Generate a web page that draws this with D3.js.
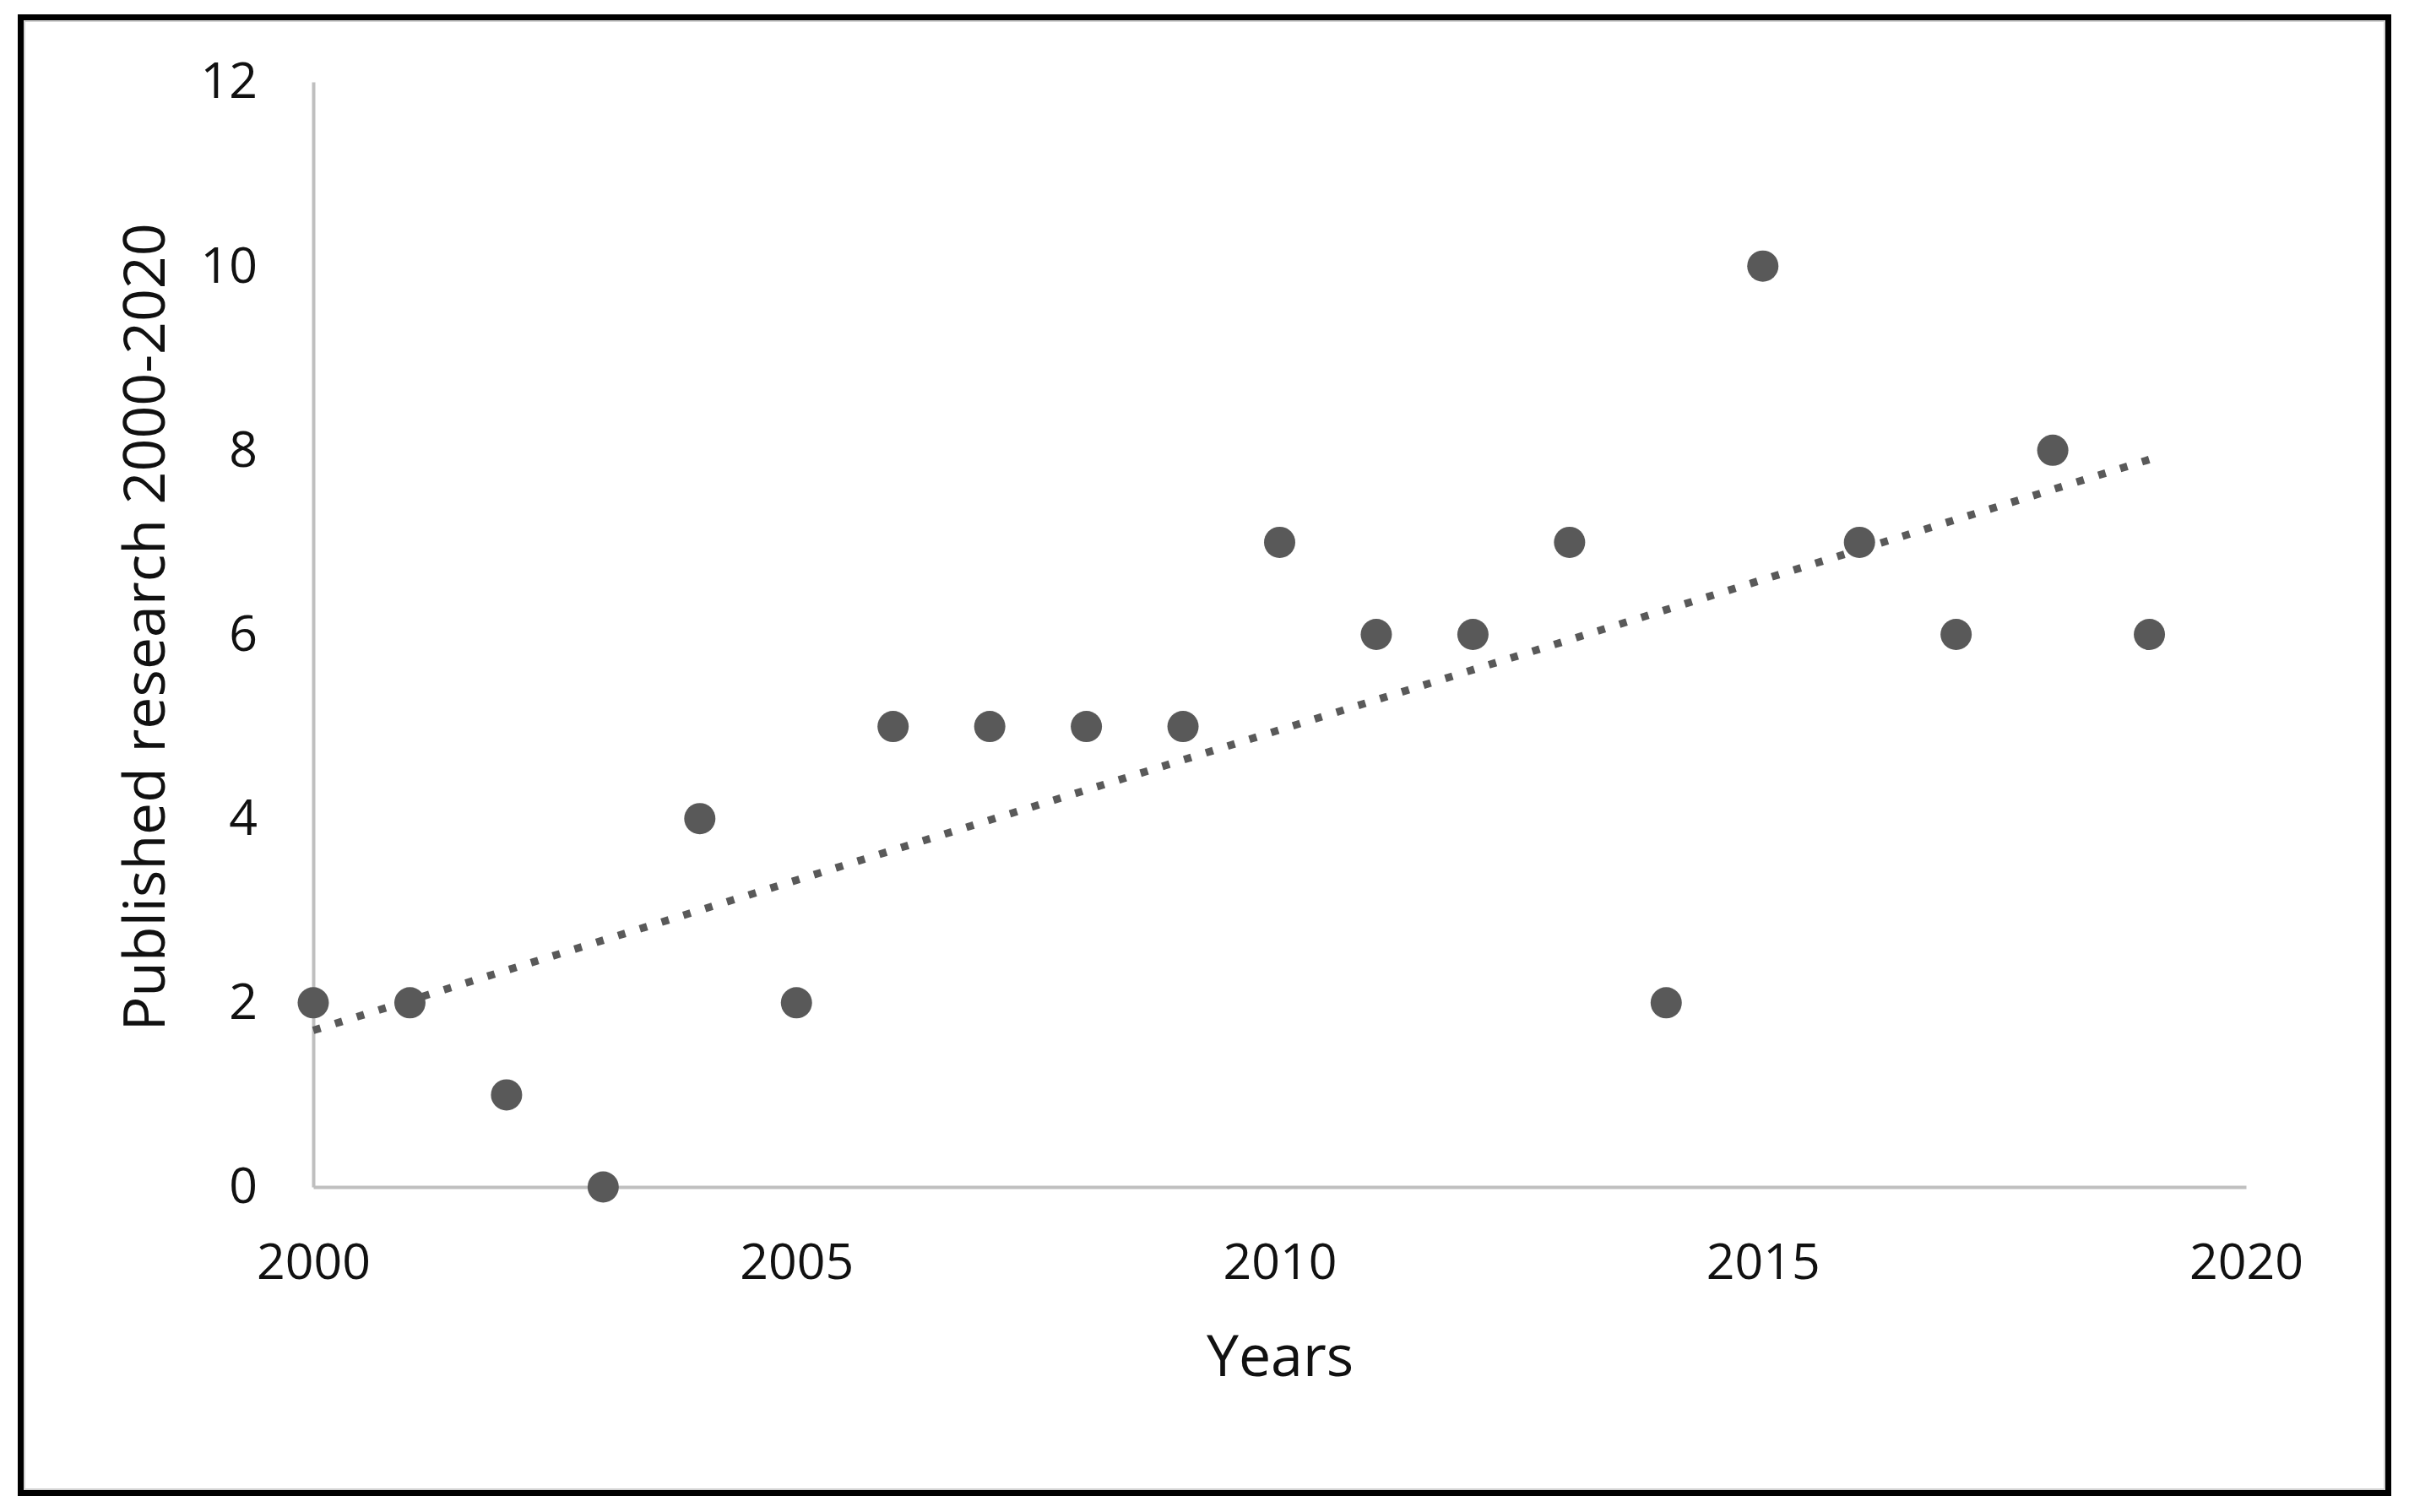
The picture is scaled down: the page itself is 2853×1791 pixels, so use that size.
<!DOCTYPE html>
<html>
<head>
<meta charset="utf-8">
<script src="https://cdn.jsdelivr.net/npm/d3@7"></script>
<style>
  html, body { margin: 0; padding: 0; background: #fff; }
  svg { display: block; }
  text { font-family: "Open Sans", "Noto Sans", sans-serif; }
</style>
</head>
<body>
<div id="chart"></div>
<script>
// data
const years = [2000, 2001, 2002, 2003, 2004, 2005, 2006, 2007, 2008, 2009,
               2010, 2011, 2012, 2013, 2014, 2015, 2016, 2017, 2018, 2019];
const published = [2, 2, 1, 0, 4, 2, 5, 5, 5, 5,
                   7, 6, 6, 7, 2, 10, 7, 6, 8, 6];
const xTicks = [2000, 2005, 2010, 2015, 2020];
const yTicks = [0, 2, 4, 6, 8, 10, 12];

const width = 2853, height = 1791;

const svg = d3.select("#chart")
    .append("svg")
    .attr("width", width)
    .attr("height", height);

// outer frame
svg.append("rect")
    .attr("x", 24.5).attr("y", 20.5)
    .attr("width", 2804).attr("height", 1748)
    .attr("fill", "#fff")
    .attr("stroke", "#000")
    .attr("stroke-width", 7);
svg.append("rect")
    .attr("x", 29).attr("y", 25)
    .attr("width", 2795).attr("height", 1739)
    .attr("fill", "none")
    .attr("stroke", "#d4d4d4")
    .attr("stroke-width", 2);

const x = d3.scaleLinear().domain([2000, 2020]).range([371, 2660]);
const y = d3.scaleLinear().domain([0, 12]).range([1406, 97]);

// axes, no tick marks, light grey lines
const gx = svg.append("g")
    .attr("transform", `translate(0,${y(0)})`)
    .call(d3.axisBottom(x).tickValues(xTicks).tickFormat(d3.format("d"))
        .tickSize(0).tickSizeOuter(0).tickPadding(67));
const gy = svg.append("g")
    .attr("transform", `translate(${x(2000)},0)`)
    .call(d3.axisLeft(y).tickValues(yTicks)
        .tickSize(0).tickSizeOuter(0).tickPadding(66));

[gx, gy].forEach(g => {
    g.select(".domain").attr("stroke", "#bfbfbf").attr("stroke-width", 4);
    g.selectAll("text")
        .attr("font-family", "'Open Sans', sans-serif")
        .attr("font-size", 59)
        .attr("fill", "#111");
});

// linear trendline (least squares on the data)
const n = years.length;
const mx = d3.mean(years), my = d3.mean(published);
const slope = d3.sum(years, (v, i) => (v - mx) * (published[i] - my)) /
              d3.sum(years, v => (v - mx) * (v - mx));
const intercept = my - slope * mx;
const trend = [years[0], years[n - 1]].map(v => [v, intercept + slope * v]);

svg.append("path")
    .datum(trend)
    .attr("d", d3.line().x(d => x(d[0])).y(d => y(d[1])))
    .attr("fill", "none")
    .attr("stroke", "#595959")
    .attr("stroke-width", 9)
    .attr("stroke-dasharray", "9,18");

// points
svg.append("g")
    .selectAll("circle")
    .data(years)
    .enter().append("circle")
    .attr("cx", d => x(d))
    .attr("cy", (d, i) => y(published[i]))
    .attr("r", 18.5)
    .attr("fill", "#595959");

// axis titles
svg.append("text")
    .attr("x", 1516)
    .attr("y", 1630)
    .attr("text-anchor", "middle")
    .attr("font-size", 68)
    .attr("fill", "#111")
    .text("Years");

svg.append("text")
    .attr("transform", "translate(195,743) rotate(-90)")
    .attr("text-anchor", "middle")
    .attr("font-size", 68)
    .attr("fill", "#111")
    .text("Published research 2000-2020");
</script>
</body>
</html>
